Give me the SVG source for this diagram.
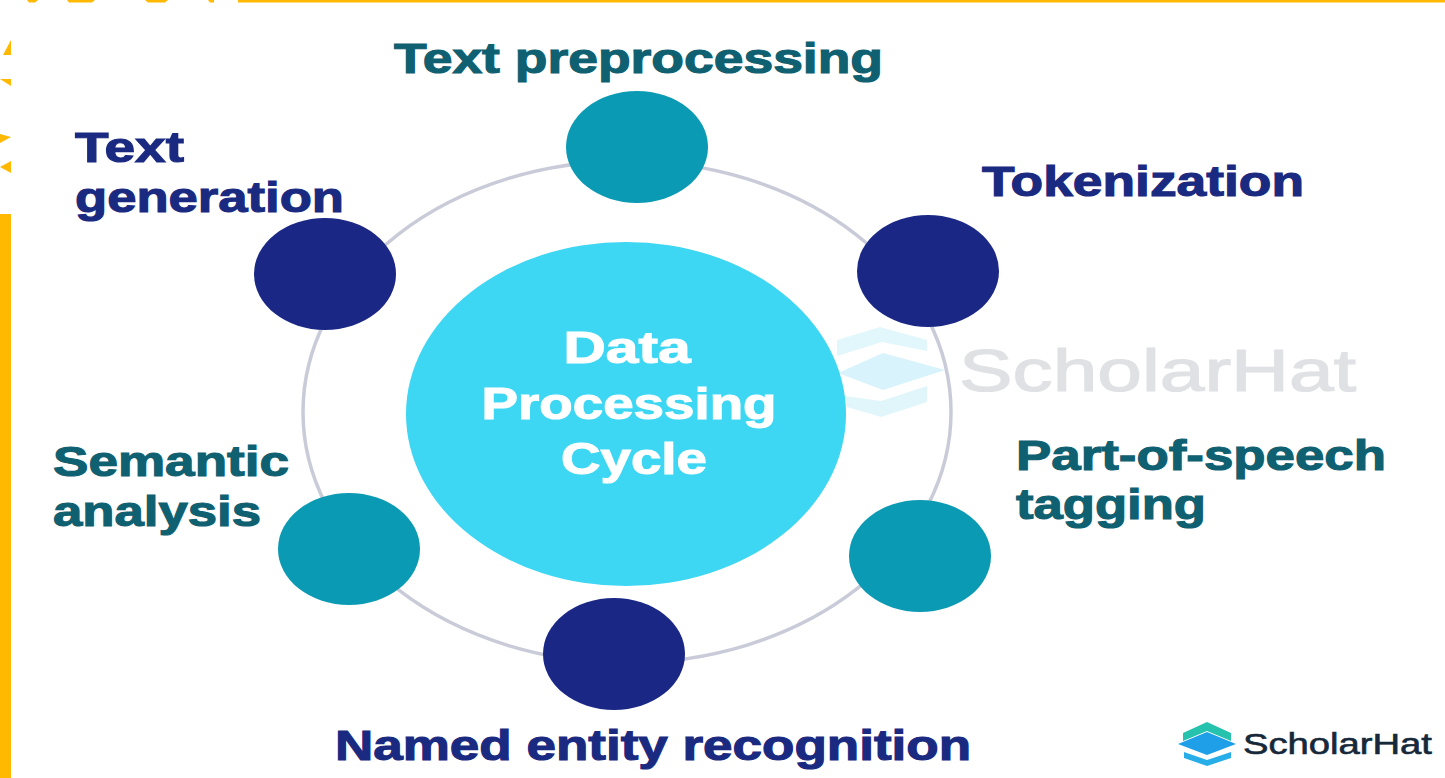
<svg xmlns="http://www.w3.org/2000/svg" width="1445" height="778" viewBox="0 0 1445 778">
<style>
.l{font-family:"Liberation Sans",Arial,sans-serif;font-weight:700;font-size:42px;stroke-width:1.1px}
.t{fill:#0f6070;stroke:#0f6070}.n{fill:#1a2a80;stroke:#1a2a80}.w{fill:#fff;stroke:#fff;text-anchor:middle;font-size:44px}
.d{fill:#1a2785}.c{fill:#0b9ab3}.y{fill:#ffb900}
</style>
<rect width="1445" height="778" fill="#fff"/>
<g id="border">
<rect class="y" x="238" y="0" width="1207" height="2.5"/>
<path class="y" d="M27 0H38L35 2.5H29ZM67 0H95L92 2.5H69ZM145 0H168L165 2.5H148ZM208 0H214V2.5H210Z"/>
<path class="y" d="M11 40V55H3ZM0 79L11 79V86ZM0 134L11 137L0 143ZM11 161V173L0 167Z"/>
<rect class="y" x="0" y="214" width="11" height="564"/>
</g>
<g id="watermark">
<path d="M837 340L880 327L927 340V351L882 342L837 356Z" fill="#e2f7fb"/>
<path d="M838 373L883 353L945 370L883 390Z" fill="#d8f3fb"/>
<path d="M845 396L881 401L927 386V402L881 417L847 407Z" fill="#e0f6fb"/>
<text x="959" y="391" font-family="Liberation Sans,Arial,sans-serif" font-size="60" fill="#dfe1e4" stroke="#dfe1e4" stroke-width="1.2" textLength="397" lengthAdjust="spacingAndGlyphs">ScholarHat</text>
</g>
<g id="connectors">
<ellipse cx="627" cy="412" rx="324" ry="251" fill="none" stroke="#c9ccd8" stroke-width="3.5"/>
</g>
<g id="center"><ellipse cx="626" cy="414" rx="220" ry="172" fill="#3dd6f3"/>
<text class="l w" x="627" y="363" textLength="127" lengthAdjust="spacingAndGlyphs">Data</text>
<text class="l w" x="629" y="419" textLength="295" lengthAdjust="spacingAndGlyphs">Processing</text>
<text class="l w" x="634" y="474" textLength="146" lengthAdjust="spacingAndGlyphs">Cycle</text></g>
<g id="text-preprocessing"><ellipse class="c" cx="637" cy="147" rx="71" ry="56"/><text class="l t" x="394" y="73" textLength="489" lengthAdjust="spacingAndGlyphs">Text preprocessing</text></g>
<g id="tokenization"><ellipse class="d" cx="928" cy="271" rx="71" ry="56"/><text class="l n" x="982" y="196" textLength="322" lengthAdjust="spacingAndGlyphs">Tokenization</text></g>
<g id="pos-tagging"><ellipse class="c" cx="920" cy="556" rx="71" ry="56"/><text class="l t" x="1016" y="470" textLength="370" lengthAdjust="spacingAndGlyphs">Part-of-speech</text><text class="l t" x="1016" y="519" textLength="190" lengthAdjust="spacingAndGlyphs">tagging</text></g>
<g id="ner"><ellipse class="d" cx="614" cy="654" rx="71" ry="56"/><text class="l n" x="335" y="760" textLength="636" lengthAdjust="spacingAndGlyphs">Named entity recognition</text></g>
<g id="semantic-analysis"><ellipse class="c" cx="349" cy="549" rx="71" ry="56"/><text class="l t" x="53" y="476" textLength="236" lengthAdjust="spacingAndGlyphs">Semantic</text><text class="l t" x="53" y="526" textLength="208" lengthAdjust="spacingAndGlyphs">analysis</text></g>
<g id="text-generation"><ellipse class="d" cx="325" cy="274" rx="71" ry="56"/><text class="l n" x="75" y="162" textLength="109" lengthAdjust="spacingAndGlyphs">Text</text><text class="l n" x="75" y="212" textLength="269" lengthAdjust="spacingAndGlyphs">generation</text></g>
<g id="logo">
<path d="M1183 733L1207 722L1231 733V741L1207 731L1183 741Z" fill="#25c2ae"/>
<path d="M1178 744L1207 732L1236 744L1207 755Z" fill="#1f9fe8"/>
<path d="M1184 752L1207 760L1231 752V758L1207 766L1184 758Z" fill="#27aee8"/>
<text x="1243" y="754" font-family="Liberation Sans,Arial,sans-serif" font-size="29" fill="#16283a" stroke="#16283a" stroke-width=".6" textLength="189" lengthAdjust="spacingAndGlyphs">ScholarHat</text>
</g>
</svg>
